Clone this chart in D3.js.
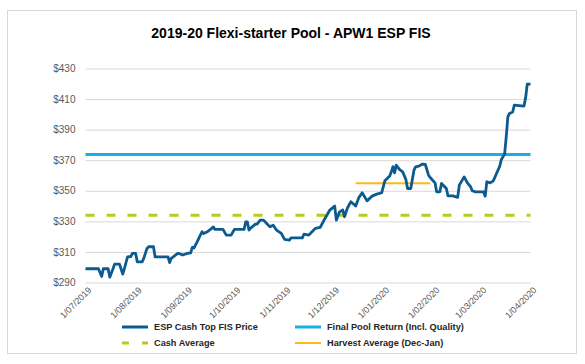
<!DOCTYPE html>
<html>
<head>
<meta charset="utf-8">
<script src="https://cdn.jsdelivr.net/npm/d3@7"></script>
<style>
  body { margin: 0; background: #fff; }
</style>
</head>
<body>
<div class="poolChart"></div>
<script>
// ESP Cash Top FIS Price
const priceDates = [
    '2019-07-01','2019-07-09','2019-07-11','2019-07-12','2019-07-15','2019-07-16','2019-07-18','2019-07-19',
    '2019-07-22','2019-07-24','2019-07-25','2019-07-27','2019-07-29','2019-07-30','2019-08-01','2019-08-02',
    '2019-08-05','2019-08-06','2019-08-08','2019-08-09','2019-08-12','2019-08-13','2019-08-21','2019-08-22',
    '2019-08-23','2019-08-27','2019-08-29','2019-08-30','2019-09-02','2019-09-04','2019-09-05','2019-09-06',
    '2019-09-08','2019-09-09','2019-09-11','2019-09-12','2019-09-14','2019-09-17','2019-09-18','2019-09-19',
    '2019-09-24','2019-09-26','2019-09-29','2019-10-01','2019-10-07','2019-10-08','2019-10-09','2019-10-10',
    '2019-10-12','2019-10-14','2019-10-15','2019-10-17','2019-10-19','2019-10-21','2019-10-23','2019-10-25',
    '2019-10-27','2019-10-30','2019-11-01','2019-11-04','2019-11-05','2019-11-12','2019-11-13','2019-11-16',
    '2019-11-18','2019-11-20','2019-11-23','2019-11-26','2019-11-29','2019-12-02','2019-12-03','2019-12-05',
    '2019-12-07','2019-12-08','2019-12-10','2019-12-12','2019-12-15','2019-12-17','2019-12-19','2019-12-22',
    '2019-12-25','2019-12-28','2019-12-31','2020-01-02','2020-01-05','2020-01-06','2020-01-07','2020-01-08',
    '2020-01-09','2020-01-11','2020-01-13','2020-01-15','2020-01-16','2020-01-18','2020-01-20','2020-01-21',
    '2020-01-23','2020-01-25','2020-01-27','2020-01-29','2020-01-30','2020-02-02','2020-02-03','2020-02-05',
    '2020-02-06','2020-02-09','2020-02-10','2020-02-13','2020-02-16','2020-02-17','2020-02-20','2020-02-22',
    '2020-02-24','2020-02-25','2020-02-27','2020-03-03','2020-03-04','2020-03-05','2020-03-07','2020-03-09',
    '2020-03-11','2020-03-13','2020-03-14','2020-03-16','2020-03-17','2020-03-18','2020-03-19','2020-03-21',
    '2020-03-22','2020-03-28','2020-03-29','2020-03-30','2020-04-01'
];
const priceValues = [
    299, 299, 294, 299, 299, 293.5, 299, 302,
    302, 295.5, 299, 306.8, 307, 309, 309, 303.5,
    303.5, 305.8, 312.3, 313.4, 313.4, 306.8, 306.8, 303,
    305.8, 309, 308.5, 308, 309, 309.4, 313, 312.5,
    316.6, 318.8, 323.2, 322, 323, 325.4, 326.4, 324.7,
    324.7, 321, 321, 324.7, 324.7, 329.7, 329.7, 324.3,
    326.4, 328.2, 328.2, 330.8, 330.8, 328.6, 326.4, 327.5,
    324.3, 322.1, 318.2, 317.7, 319.2, 319.2, 321.6, 321,
    323.2, 325.4, 326, 331.9, 337.4, 340, 330.8, 336.2,
    337.4, 333, 339.1, 342.8, 340, 345.7, 348.7, 343.4,
    346.5, 347.8, 348.7, 356.5, 359.6, 362.4, 365.7, 361.7,
    366.8, 364, 362.4, 357.4, 351.5, 351.5, 363.5, 365.7,
    366.1, 367.4, 367.2, 360.2, 358.7, 355.2, 349.3, 349.3,
    354.8, 351.5, 346.7, 346.7, 345.7, 353.7, 359.1, 355.2,
    352.6, 350, 349.3, 349.3, 346.5, 355.9, 355.2, 356.5,
    361.3, 366.1, 370.5, 374, 385.3, 398.4, 400.6, 401.6,
    406, 405.4, 411, 419.8, 419.8
];

// flat reference lines
const finalPoolReturn = 373.7;
const cashAverage = 334;
const harvestAverage = 355;
const harvestDates = ['2019-12-15', '2020-01-30'];

const xTickDates = ['2019-07-01','2019-08-01','2019-09-01','2019-10-01','2019-11-01',
    '2019-12-01','2020-01-01','2020-02-01','2020-03-01','2020-04-01'];
const yTicks = [290, 310, 330, 350, 370, 390, 410, 430];

const legendNames = ['ESP Cash Top FIS Price', 'Final Pool Return (Incl. Quality)',
    'Cash Average', 'Harvest Average (Dec-Jan)'];

function poolChart() {
    const width = 585, height = 364;
    const margin = {top: 68.5, right: 54.5, bottom: 81.5, left: 85.5};
    const parse = d3.timeParse('%Y-%m-%d');

    const colors = {
        price: '#0c5b8e',
        pool: '#16b0e2',
        cash: '#b5cc1e',
        harvest: '#ffb81c'
    };

    const svg = d3.select('.poolChart')
        .append('svg')
        .attr('width', width)
        .attr('height', height)
        .attr('style', 'font-family: "Liberation Sans", Arial, sans-serif');

    // frame
    svg.append('rect')
        .attr('x', 7.5).attr('y', 10.5)
        .attr('width', 569).attr('height', 343)
        .attr('fill', '#fff')
        .attr('stroke', '#d9d9d9');

    svg.append('text')
        .attr('x', 291).attr('y', 38)
        .attr('text-anchor', 'middle')
        .attr('font-size', '14px')
        .attr('font-weight', 'bold')
        .attr('letter-spacing', '0px')
        .attr('fill', '#000')
        .text('2019-20 Flexi-starter Pool - APW1 ESP FIS');

    const scaleX = d3.scaleTime()
        .domain([parse('2019-07-01'), parse('2020-04-01')])
        .range([margin.left, width - margin.right]);

    const scaleY = d3.scaleLinear()
        .domain([290, 430])
        .range([height - margin.bottom, margin.top]);

    // grid + y labels
    const yAxis = svg.append('g')
        .attr('transform', `translate(${margin.left}, 0)`)
        .call(d3.axisLeft(scaleY)
            .tickValues(yTicks)
            .tickSize(-(width - margin.right - margin.left))
            .tickPadding(10)
            .tickFormat(d => '$' + d));
    yAxis.select('.domain').remove();
    yAxis.selectAll('line').attr('stroke', '#d9d9d9');
    yAxis.selectAll('text')
        .attr('fill', '#595959')
        .attr('font-size', '10px')
        .attr('font-family', '"Liberation Sans", Arial, sans-serif');

    // x labels
    const xAxis = svg.append('g')
        .attr('transform', `translate(0, ${height - margin.bottom})`)
        .call(d3.axisBottom(scaleX)
            .tickValues(xTickDates.map(parse))
            .tickSize(0)
            .tickFormat(d3.timeFormat('%-d/%m/%Y')));
    xAxis.select('.domain').remove();
    xAxis.selectAll('text')
        .attr('fill', '#595959')
        .attr('font-size', '9px')
        .attr('font-family', '"Liberation Sans", Arial, sans-serif')
        .attr('text-anchor', 'end')
        .attr('dy', 0)
        .attr('transform', 'translate(4, 6) rotate(-45)');

    const lines = svg.append('g');

    const fullSpan = [parse('2019-07-01'), parse('2020-04-01')];

    lines.append('line')
        .attr('x1', scaleX(fullSpan[0])).attr('x2', scaleX(fullSpan[1]))
        .attr('y1', scaleY(cashAverage)).attr('y2', scaleY(cashAverage))
        .attr('stroke', colors.cash)
        .attr('stroke-width', 3)
        .attr('stroke-dasharray', '9 12');

    lines.append('line')
        .attr('x1', scaleX(fullSpan[0])).attr('x2', scaleX(fullSpan[1]))
        .attr('y1', scaleY(finalPoolReturn)).attr('y2', scaleY(finalPoolReturn))
        .attr('stroke', colors.pool)
        .attr('stroke-width', 3);

    lines.append('line')
        .attr('x1', scaleX(parse(harvestDates[0]))).attr('x2', scaleX(parse(harvestDates[1])))
        .attr('y1', scaleY(harvestAverage)).attr('y2', scaleY(harvestAverage))
        .attr('stroke', colors.harvest)
        .attr('stroke-width', 2);

    const priceData = priceDates.map((d, i) => ({date: parse(d), value: priceValues[i]}));
    const line = d3.line()
        .x(d => scaleX(d.date))
        .y(d => scaleY(d.value));

    lines.append('path')
        .datum(priceData)
        .attr('d', line)
        .attr('fill', 'none')
        .attr('stroke', colors.price)
        .attr('stroke-width', 2.8)
        .attr('stroke-linejoin', 'round');

    // legend, 2 columns x 2 rows
    const legendStyles = [
        {color: colors.price, dash: null, width: 3},
        {color: colors.pool, dash: null, width: 3},
        {color: colors.cash, dash: '7 13 6', width: 3},
        {color: colors.harvest, dash: null, width: 2}
    ];
    const legend = svg.append('g')
        .selectAll('g')
        .data(legendNames)
        .join('g')
        .attr('transform', (d, i) => `translate(${i % 2 === 0 ? 122 : 295}, ${i < 2 ? 327 : 343})`);

    legend.append('line')
        .attr('x1', 0).attr('x2', 26)
        .attr('stroke', (d, i) => legendStyles[i].color)
        .attr('stroke-width', (d, i) => legendStyles[i].width)
        .attr('stroke-dasharray', (d, i) => legendStyles[i].dash);

    legend.append('text')
        .attr('x', 32)
        .attr('dy', '0.35em')
        .attr('font-size', '9.2px')
        .attr('font-weight', 'bold')
        .attr('fill', '#262626')
        .text(d => d);
}

poolChart();
</script>
</body>
</html>
